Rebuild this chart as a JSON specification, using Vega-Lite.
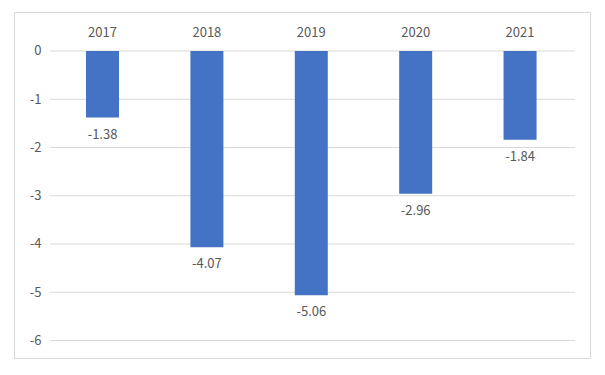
{
  "$schema": "https://vega.github.io/schema/vega-lite/v6.json",
  "autosize": {"type": "none"},
  "width": 576,
  "height": 346,
  "padding": {"left": 14, "top": 12, "right": 15, "bottom": 17},
  "background": "white",
  "config": {
    "view": {"stroke": "#d9d9d9", "strokeWidth": 1},
    "font": "Noto Sans CJK SC",
    "locale": {"number": {"decimal": ".", "thousands": ",", "grouping": [3], "currency": ["$", ""], "minus": "-"}}
  },
  "datasets": {
    "bars": [
      {"year": 2017, "value": -1.38},
      {"year": 2018, "value": -4.07},
      {"year": 2019, "value": -5.06},
      {"year": 2020, "value": -2.96},
      {"year": 2021, "value": -1.84}
    ],
    "grid": [
      {"v": 0}, {"v": -1}, {"v": -2}, {"v": -3}, {"v": -4}, {"v": -5}, {"v": -6}
    ]
  },
  "layer": [
    {
      "data": {"name": "grid"},
      "mark": {"type": "rule", "color": "#d9d9d9", "strokeWidth": 1},
      "encoding": {
        "y": {"field": "v", "type": "quantitative", "scale": {"domain": [-6.363, 0.808], "nice": false, "zero": false, "padding": 0},
          "axis": {"values": [0, -1, -2, -3, -4, -5, -6], "format": "d", "grid": false, "ticks": false, "domain": false, "offset": -27, "labelPadding": 0, "labelFontSize": 13, "labelColor": "#595959", "labelFont": "Noto Sans CJK SC", "title": null}},
        "x": {"datum": 2016.497, "type": "quantitative", "scale": {"domain": [2016.152, 2021.67], "nice": false, "zero": false, "padding": 0}, "axis": null},
        "x2": {"datum": 2021.526}
      }
    },
    {
      "data": {"name": "bars"},
      "mark": {"type": "bar", "color": "#4472C4", "width": 33},
      "encoding": {
        "x": {"field": "year", "type": "quantitative"},
        "y": {"field": "value", "type": "quantitative"},
        "y2": {"datum": 0}
      }
    },
    {
      "data": {"name": "bars"},
      "mark": {"type": "text", "baseline": "middle", "align": "center", "dy": 17, "fontSize": 13, "color": "#595959"},
      "encoding": {
        "x": {"field": "year", "type": "quantitative"},
        "y": {"field": "value", "type": "quantitative"},
        "text": {"field": "value", "type": "quantitative", "format": ".2f"}
      }
    },
    {
      "data": {"name": "bars"},
      "mark": {"type": "text", "baseline": "middle", "align": "center", "dy": -18, "fontSize": 13, "color": "#595959"},
      "encoding": {
        "x": {"field": "year", "type": "quantitative"},
        "y": {"datum": 0, "type": "quantitative"},
        "text": {"field": "year", "type": "nominal"}
      }
    }
  ]
}
